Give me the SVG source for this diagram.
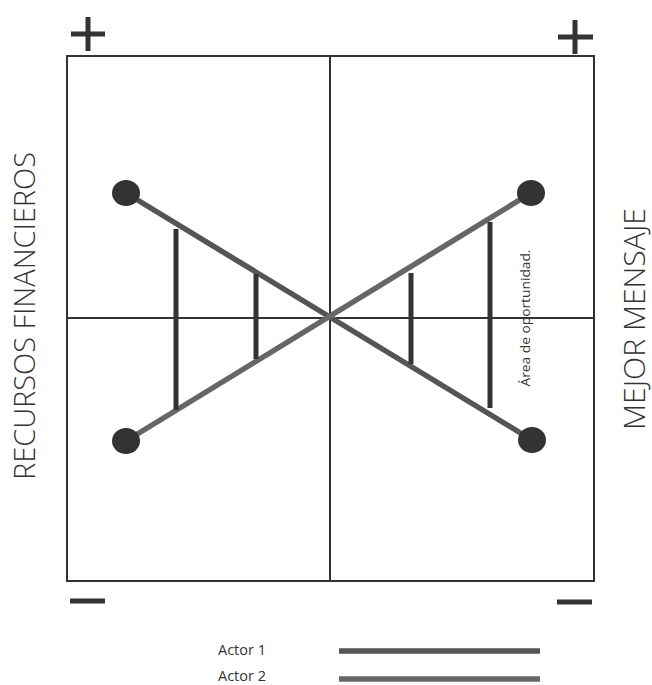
<svg xmlns="http://www.w3.org/2000/svg" width="652" height="685" viewBox="0 0 652 685">
<style>
.frame{fill:none;stroke:#333;stroke-width:2}
.axis{stroke:#333;stroke-width:2}
.sign{stroke:#333;stroke-width:5;fill:none}
.a1{stroke:#555;stroke-width:5.5}
.a2{stroke:#666;stroke-width:5.5}
.bar{stroke:#333;stroke-width:5}
.dot{fill:#333}
.big{font-family:"Open Sans","Liberation Sans",sans-serif;font-weight:300;font-size:30px;fill:#333}
.small{font-family:"Open Sans","Liberation Sans",sans-serif;font-size:13px;fill:#333}
.leg{font-family:"Open Sans","Liberation Sans",sans-serif;font-size:14.5px;fill:#333}
</style>
<rect x="0" y="0" width="652" height="685" fill="#fff"/>
<g id="frame">
<rect class="frame" x="67" y="56" width="527" height="525"/>
<line class="axis" x1="330" y1="56" x2="330" y2="581"/>
<line class="axis" x1="67" y1="318" x2="594" y2="318"/>
</g>
<g id="signs">
<path class="sign" d="M71 34H105M88 17V51"/>
<path class="sign" d="M558 37H593M575 20V54"/>
<path class="sign" d="M70 601H105"/>
<path class="sign" d="M557 602H592"/>
</g>
<g id="connectors">
<line class="a1" x1="126" y1="193" x2="532" y2="440"/>
<line class="a2" x1="126" y1="441" x2="531" y2="193"/>
<line class="bar" x1="176" y1="229" x2="176" y2="410"/>
<line class="bar" x1="256" y1="274" x2="256" y2="359"/>
<line class="bar" x1="411" y1="273" x2="411" y2="364"/>
<line class="bar" x1="490" y1="222" x2="490" y2="408"/>
</g>
<g id="node-tl"><ellipse class="dot" cx="126" cy="193" rx="14" ry="13"/></g>
<g id="node-tr"><ellipse class="dot" cx="531" cy="193" rx="14" ry="13"/></g>
<g id="node-bl"><ellipse class="dot" cx="126" cy="441" rx="14" ry="13"/></g>
<g id="node-br"><ellipse class="dot" cx="532" cy="440" rx="14" ry="13"/></g>
<g id="labels">
<text class="small" transform="translate(530,318) rotate(-90)" text-anchor="middle" textLength="137" lengthAdjust="spacingAndGlyphs">Área de oportunidad.</text>
<text class="big" transform="translate(35,316) rotate(-90)" text-anchor="middle" textLength="328" lengthAdjust="spacingAndGlyphs">RECURSOS FINANCIEROS</text>
<text class="big" transform="translate(645,319) rotate(-90)" text-anchor="middle" textLength="222" lengthAdjust="spacingAndGlyphs" style="font-size:29px">MEJOR MENSAJE</text>
</g>
<g id="legend">
<text class="leg" x="218" y="655">Actor 1</text>
<text class="leg" x="218" y="681">Actor 2</text>
<line class="a1" x1="339" y1="651" x2="540" y2="651"/>
<line class="a2" x1="339" y1="679" x2="540" y2="679"/>
</g>
</svg>
